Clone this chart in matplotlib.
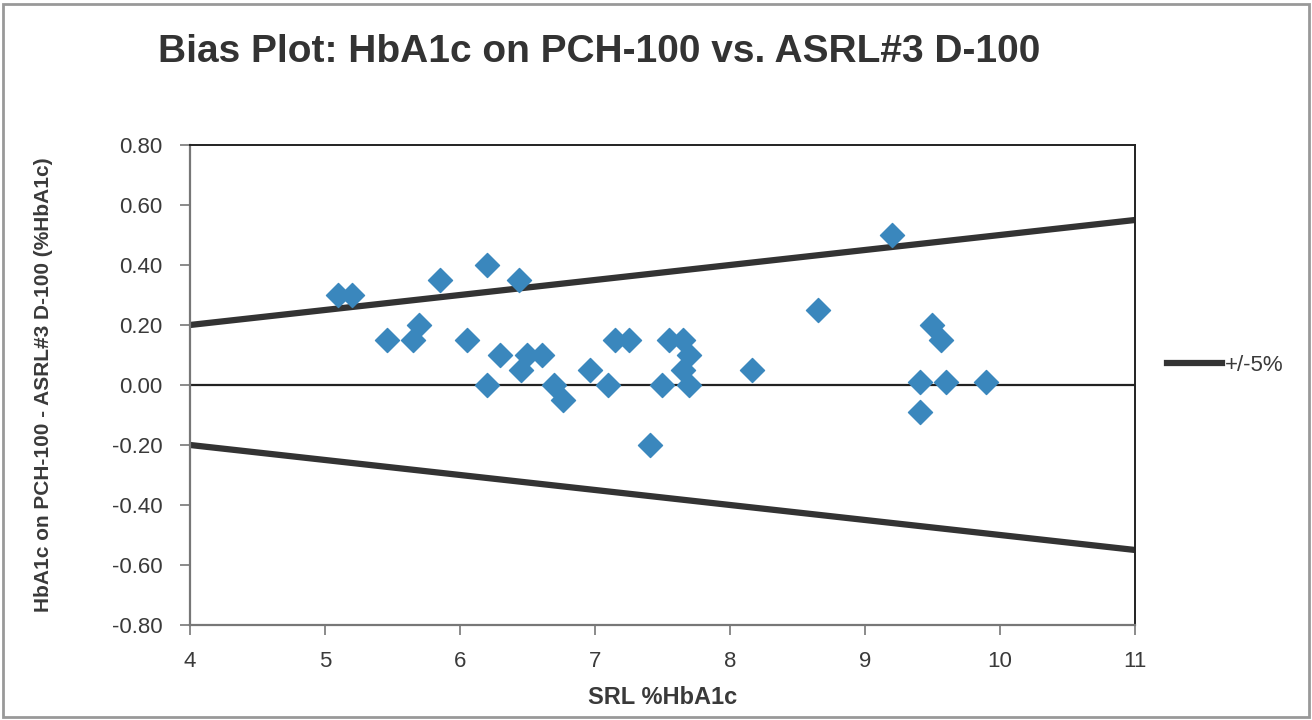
import matplotlib
matplotlib.use("Agg")
import matplotlib.pyplot as plt
from matplotlib.patches import Rectangle
from matplotlib.lines import Line2D

plt.rcParams['font.family'] = ['Liberation Sans', 'DejaVu Sans']

srl = [5.10, 5.20, 5.46, 5.65, 5.70, 5.85, 6.05, 6.20, 6.20, 6.30, 6.44, 6.45, 6.50, 6.61,
       6.70, 6.76, 6.96, 7.10, 7.15, 7.25, 7.41, 7.50, 7.55, 7.65, 7.70, 7.65, 7.70, 8.16,
       8.65, 9.20, 9.50, 9.56, 9.41, 9.60, 9.90, 9.41]
bias = [0.30, 0.30, 0.15, 0.15, 0.20, 0.35, 0.15, 0.40, 0.00, 0.10, 0.35, 0.05, 0.10, 0.10,
        0.00, -0.05, 0.05, 0.00, 0.15, 0.15, -0.20, 0.00, 0.15, 0.15, 0.10, 0.05, 0.00, 0.05,
        0.25, 0.50, 0.20, 0.15, 0.01, 0.01, 0.01, -0.09]
limit_x = [4, 11]
upper_limit = [0.20, 0.55]
lower_limit = [-0.20, -0.55]
xticks = [4, 5, 6, 7, 8, 9, 10, 11]
yticks = [-0.8, -0.6, -0.4, -0.2, 0.0, 0.2, 0.4, 0.6, 0.8]

fig = plt.figure(figsize=(13.12, 7.2), dpi=100)
ax = fig.add_axes([0.1448, 0.132, 0.7202, 0.6666])

line_col = '#333333'
text_col = '#3a3a3a'
ax.plot(limit_x, upper_limit, color=line_col, lw=4.5, solid_capstyle='butt', zorder=2)
ax.plot(limit_x, lower_limit, color=line_col, lw=4.5, solid_capstyle='butt', zorder=2)
ax.axhline(0, color='#222222', lw=1.6, zorder=1)
ax.scatter(srl, bias, marker='D', s=150, color='#3a87bd', edgecolors='#3a87bd', zorder=3)

ax.set_xlim(4, 11)
ax.set_ylim(-0.8, 0.8)
ax.set_xticks(xticks)
ax.set_xticklabels([str(v) for v in xticks], fontsize=16, color=text_col)
ax.set_yticks(yticks)
ax.set_yticklabels([f"{v:.2f}" for v in yticks], fontsize=16, color=text_col)
ax.tick_params(axis='x', direction='out', length=7, width=1.2, color='#777777', pad=12)
ax.tick_params(axis='y', direction='out', length=7, width=1.2, color='#777777', pad=13)

for s in ['left', 'bottom']:
    ax.spines[s].set_color('#777777')
    ax.spines[s].set_linewidth(1.6)
for s in ['top', 'right']:
    ax.spines[s].set_color('#222222')
    ax.spines[s].set_linewidth(1.4)

ax.set_xlabel('SRL %HbA1c', fontsize=17, fontweight='bold', color=text_col)
ax.xaxis.set_label_coords(0.5, -0.128)
ax.set_ylabel('HbA1c on PCH-100 - ASRL#3 D-100 (%HbA1c)', fontsize=15, fontweight='bold', color=text_col)
ax.yaxis.set_label_coords(-0.145, 0.5)

fig.text(0.457, 0.928, 'Bias Plot: HbA1c on PCH-100 vs. ASRL#3 D-100', ha='center', va='center',
         fontsize=28, fontweight='bold', color='#333333')

handle = Line2D([0], [0], color=line_col, lw=4.5)
fig.legend([handle], ['+/-5%'], loc='center left', bbox_to_anchor=(0.874, 0.493),
           frameon=False, fontsize=16, handlelength=2.5, handletextpad=0.1,
           labelcolor=text_col)

fig.add_artist(Rectangle((0.002, 0.004), 0.996, 0.99, transform=fig.transFigure,
                         fill=False, edgecolor='#999999', lw=2))

fig.savefig('out.png', dpi=100)
